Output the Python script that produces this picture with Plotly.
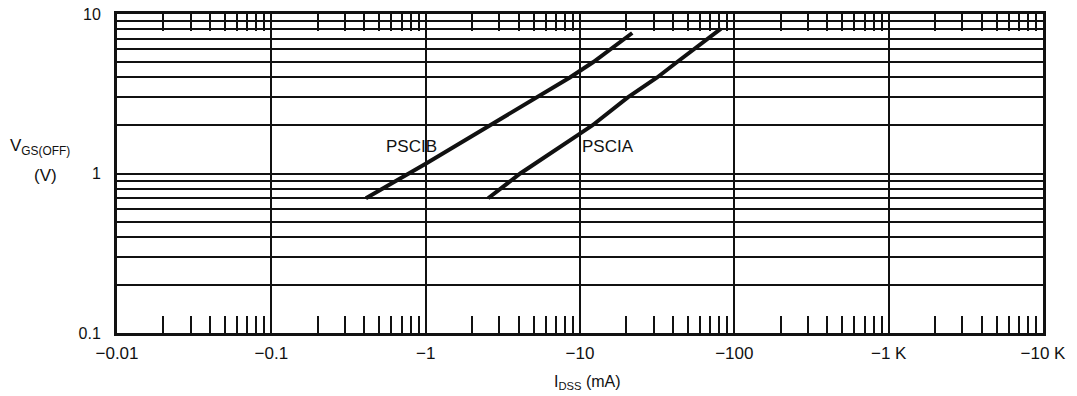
import plotly.graph_objects as go

# Data (I_DSS magnitude in mA, V_GS(OFF) in V)
pscib_idss = [0.41, 1.0, 2.6, 5.3, 8.6, 12.2, 21.8]
pscib_vgs = [0.70, 1.15, 2.0, 3.0, 4.0, 5.0, 7.6]
pscia_idss = [2.54, 4.1, 10.0, 12.0, 20.4, 31.6, 42.6, 82.0]
pscia_vgs = [0.70, 1.0, 1.78, 2.0, 3.0, 4.0, 5.0, 8.1]

x_decades = [0.01, 0.1, 1, 10, 100, 1000, 10000]
x_labels = ["−0.01", "−0.1", "−1", "−10", "−100", "−1 K", "−10 K"]
x_minor = [m * d for d in [0.01, 0.1, 1, 10, 100, 1000] for m in range(2, 10)]

y_major = [0.1, 1, 10]
y_labels = ["0.1", "1", "10"]
y_minor = [m * d for d in [0.1, 1] for m in range(2, 10)]

font = "Liberation Sans, Arial, Helvetica, sans-serif"
ink = "#111111"

fig = go.Figure()
fig.add_trace(go.Scatter(x=pscib_idss, y=pscib_vgs, mode="lines",
                         line=dict(color=ink, width=4),
                         xaxis="x", yaxis="y", showlegend=False, hoverinfo="skip"))
fig.add_trace(go.Scatter(x=pscia_idss, y=pscia_vgs, mode="lines",
                         line=dict(color=ink, width=4),
                         xaxis="x2", yaxis="y", showlegend=False, hoverinfo="skip"))

fig.update_layout(
    width=1077, height=396,
    margin=dict(l=117, r=34, t=14, b=63, autoexpand=False),
    paper_bgcolor="white", plot_bgcolor="white",
    font=dict(family=font, size=16, color=ink),
    xaxis=dict(type="log", range=[-2, 4], tickmode="array",
               tickvals=x_decades, ticktext=x_labels, ticks="",
               showgrid=True, gridcolor=ink, gridwidth=1.5,
               showline=True, linecolor=ink, linewidth=3, mirror=True,
               zeroline=False, ticklabelstandoff=3, automargin=False,
               tickfont=dict(size=17, family=font, color=ink)),
    xaxis2=dict(type="log", range=[-2, 4], overlaying="x", side="bottom",
                tickmode="array", tickvals=x_minor, ticks="inside",
                ticklen=17, tickwidth=2, tickcolor=ink, automargin=False,
                showticklabels=False, showgrid=False, showline=False,
                mirror="ticks", zeroline=False),
    yaxis=dict(type="log", range=[-1, 1], tickmode="array",
               tickvals=y_major, ticktext=y_labels, ticks="",
               showgrid=True, gridcolor=ink, gridwidth=2,
               minor=dict(tickmode="array", tickvals=y_minor, showgrid=True,
                          gridcolor=ink, gridwidth=2, ticks=""),
               showline=True, linecolor=ink, linewidth=3, mirror=True,
               zeroline=False, ticklabelstandoff=10, automargin=False,
               tickfont=dict(size=16, family=font, color=ink)),
)

# curve labels (log-axis annotation coords are log10 values)
fig.add_annotation(x=-0.095, y=0.17, xref="x", yref="y", text="PSCIB",
                   showarrow=False, xanchor="center", yanchor="middle",
                   font=dict(size=17, family=font, color=ink))
fig.add_annotation(x=1.18, y=0.17, xref="x", yref="y", text="PSCIA",
                   showarrow=False, xanchor="center", yanchor="middle",
                   font=dict(size=17, family=font, color=ink))

# axis titles placed in pixels, converted to paper coordinates
W, H = 1077, 396
L, R, T, B = 117, 34, 14, 63
pw, ph = W - L - R, H - T - B


def px2paper(px, py):
    return (px - L) / pw, 1 - (py - T) / ph


x0, y0 = px2paper(8, 147)
fig.add_annotation(x=x0, y=y0, xref="paper", yref="paper", text="V<sub>GS(OFF)</sub>",
                   showarrow=False, xanchor="left", yanchor="middle",
                   font=dict(size=17, family=font, color=ink))
x0, y0 = px2paper(45, 175)
fig.add_annotation(x=x0, y=y0, xref="paper", yref="paper", text="(V)",
                   showarrow=False, xanchor="center", yanchor="middle",
                   font=dict(size=17, family=font, color=ink))
x0, y0 = px2paper(587, 382)
fig.add_annotation(x=x0, y=y0, xref="paper", yref="paper", text="I<sub>DSS</sub> (mA)",
                   showarrow=False, xanchor="center", yanchor="middle",
                   font=dict(size=16, family=font, color=ink))

fig.write_html("out.html")
